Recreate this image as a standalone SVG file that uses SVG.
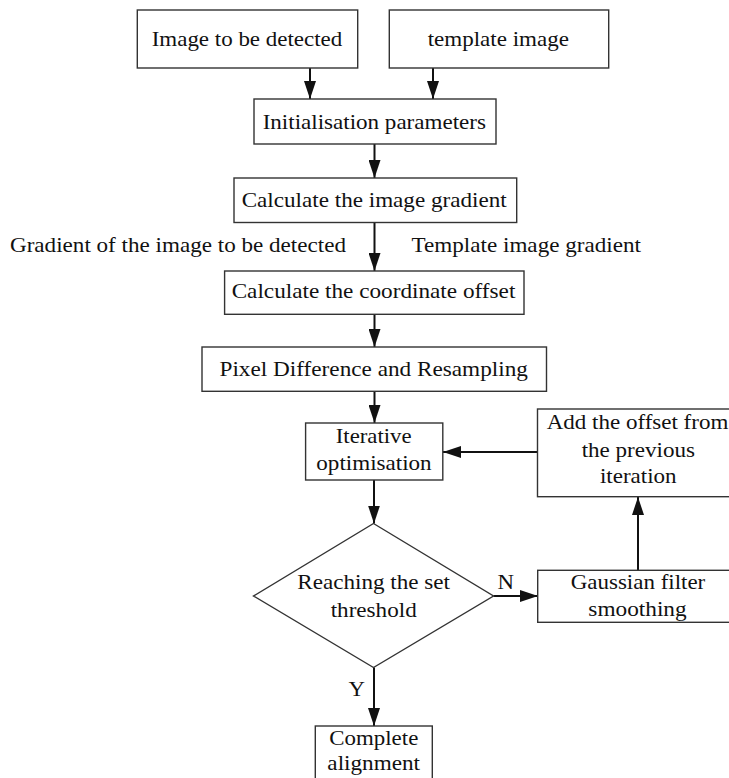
<svg xmlns="http://www.w3.org/2000/svg" width="729" height="778" viewBox="0 0 729 778">
<style>
.box{fill:#fff;stroke:#333;stroke-width:1.4}
.t{font-family:"Liberation Serif","Times New Roman",serif;font-size:21px;fill:#111;text-anchor:middle}
.l{font-family:"Liberation Serif","Times New Roman",serif;font-size:21px;fill:#111}
.c{fill:none;stroke:#111;stroke-width:2}
</style>
<defs>
<marker id="ah" markerUnits="userSpaceOnUse" markerWidth="18" markerHeight="12" refX="18" refY="6" orient="auto">
<path d="M0,0 L18,6 L0,12 z" fill="#111"/>
</marker>
</defs>
<rect width="729" height="778" fill="#fff"/>
<g id="connectors">
<line class="c" x1="310" y1="68" x2="310" y2="99" marker-end="url(#ah)"/>
<line class="c" x1="433" y1="68" x2="433" y2="99" marker-end="url(#ah)"/>
<line class="c" x1="374.5" y1="144" x2="374.5" y2="178" marker-end="url(#ah)"/>
<line class="c" x1="374.5" y1="223" x2="374.5" y2="271" marker-end="url(#ah)"/>
<line class="c" x1="374.5" y1="314" x2="374.5" y2="347" marker-end="url(#ah)"/>
<line class="c" x1="374.5" y1="391" x2="374.5" y2="423" marker-end="url(#ah)"/>
<line class="c" x1="538" y1="452" x2="443" y2="452" marker-end="url(#ah)"/>
<line class="c" x1="374" y1="480" x2="374" y2="523.5" marker-end="url(#ah)"/>
<line class="c" x1="493.5" y1="596" x2="538" y2="596" marker-end="url(#ah)"/>
<line class="c" x1="638" y1="570" x2="638" y2="497" marker-end="url(#ah)"/>
<line class="c" x1="374" y1="667.5" x2="374" y2="726" marker-end="url(#ah)"/>
<text class="l" x="10" y="251.5" textLength="336" lengthAdjust="spacingAndGlyphs">Gradient of the image to be detected</text>
<text class="l" x="411.5" y="251.5" textLength="229.5" lengthAdjust="spacingAndGlyphs">Template image gradient</text>
<text class="l" x="497.5" y="589.3" textLength="16.5" lengthAdjust="spacingAndGlyphs">N</text>
<text class="l" x="348.5" y="696" textLength="16.5" lengthAdjust="spacingAndGlyphs">Y</text>
</g>
<g id="n1">
<rect class="box" x="137.3" y="10" width="220.4" height="58"/>
<text class="t" x="247" y="46" textLength="190.6" lengthAdjust="spacingAndGlyphs">Image to be detected</text>
</g>
<g id="n2">
<rect class="box" x="389.3" y="10" width="219.4" height="58"/>
<text class="t" x="498.3" y="46" textLength="141.3" lengthAdjust="spacingAndGlyphs">template image</text>
</g>
<g id="n3">
<rect class="box" x="254" y="99" width="242" height="45"/>
<text class="t" x="374.3" y="128.5" textLength="223.3" lengthAdjust="spacingAndGlyphs">Initialisation parameters</text>
</g>
<g id="n4">
<rect class="box" x="234" y="178" width="282.7" height="44.5"/>
<text class="t" x="374.2" y="207.3" textLength="265" lengthAdjust="spacingAndGlyphs">Calculate the image gradient</text>
</g>
<g id="n5">
<rect class="box" x="224.6" y="271" width="299.4" height="43.3"/>
<text class="t" x="373.5" y="298.3" textLength="283.7" lengthAdjust="spacingAndGlyphs">Calculate the coordinate offset</text>
</g>
<g id="n6">
<rect class="box" x="202" y="347" width="344.5" height="44.3"/>
<text class="t" x="373.7" y="376" textLength="308.4" lengthAdjust="spacingAndGlyphs">Pixel Difference and Resampling</text>
</g>
<g id="n7">
<rect class="box" x="305.6" y="423" width="137.2" height="57"/>
<text class="t" x="373.7" y="443.3" textLength="75.8" lengthAdjust="spacingAndGlyphs">Iterative</text>
<text class="t" x="374" y="470" textLength="115.3" lengthAdjust="spacingAndGlyphs">optimisation</text>
</g>
<g id="n8">
<rect class="box" x="537.5" y="409" width="200" height="87.7"/>
<text class="t" x="637.5" y="429.3" textLength="181.7" lengthAdjust="spacingAndGlyphs">Add the offset from</text>
<text class="t" x="638.3" y="456.7" textLength="113.3" lengthAdjust="spacingAndGlyphs">the previous</text>
<text class="t" x="638.3" y="483.3" textLength="76.7" lengthAdjust="spacingAndGlyphs">iteration</text>
</g>
<g id="n9">
<polygon class="box" points="373.5,523.5 493.5,596 373.5,667.5 253.5,596"/>
<text class="t" x="373.7" y="589.3" textLength="152.7" lengthAdjust="spacingAndGlyphs">Reaching the set</text>
<text class="t" x="373.7" y="616.7" textLength="86" lengthAdjust="spacingAndGlyphs">threshold</text>
</g>
<g id="n10">
<rect class="box" x="537.7" y="570.3" width="200" height="52"/>
<text class="t" x="638" y="589.3" textLength="134.5" lengthAdjust="spacingAndGlyphs">Gaussian filter</text>
<text class="t" x="637.5" y="615.5" textLength="98.3" lengthAdjust="spacingAndGlyphs">smoothing</text>
</g>
<g id="n11">
<rect class="box" x="315.3" y="726" width="117" height="60"/>
<text class="t" x="373.8" y="745" textLength="89" lengthAdjust="spacingAndGlyphs">Complete</text>
<text class="t" x="373.7" y="770" textLength="92.7" lengthAdjust="spacingAndGlyphs">alignment</text>
</g>
</svg>
